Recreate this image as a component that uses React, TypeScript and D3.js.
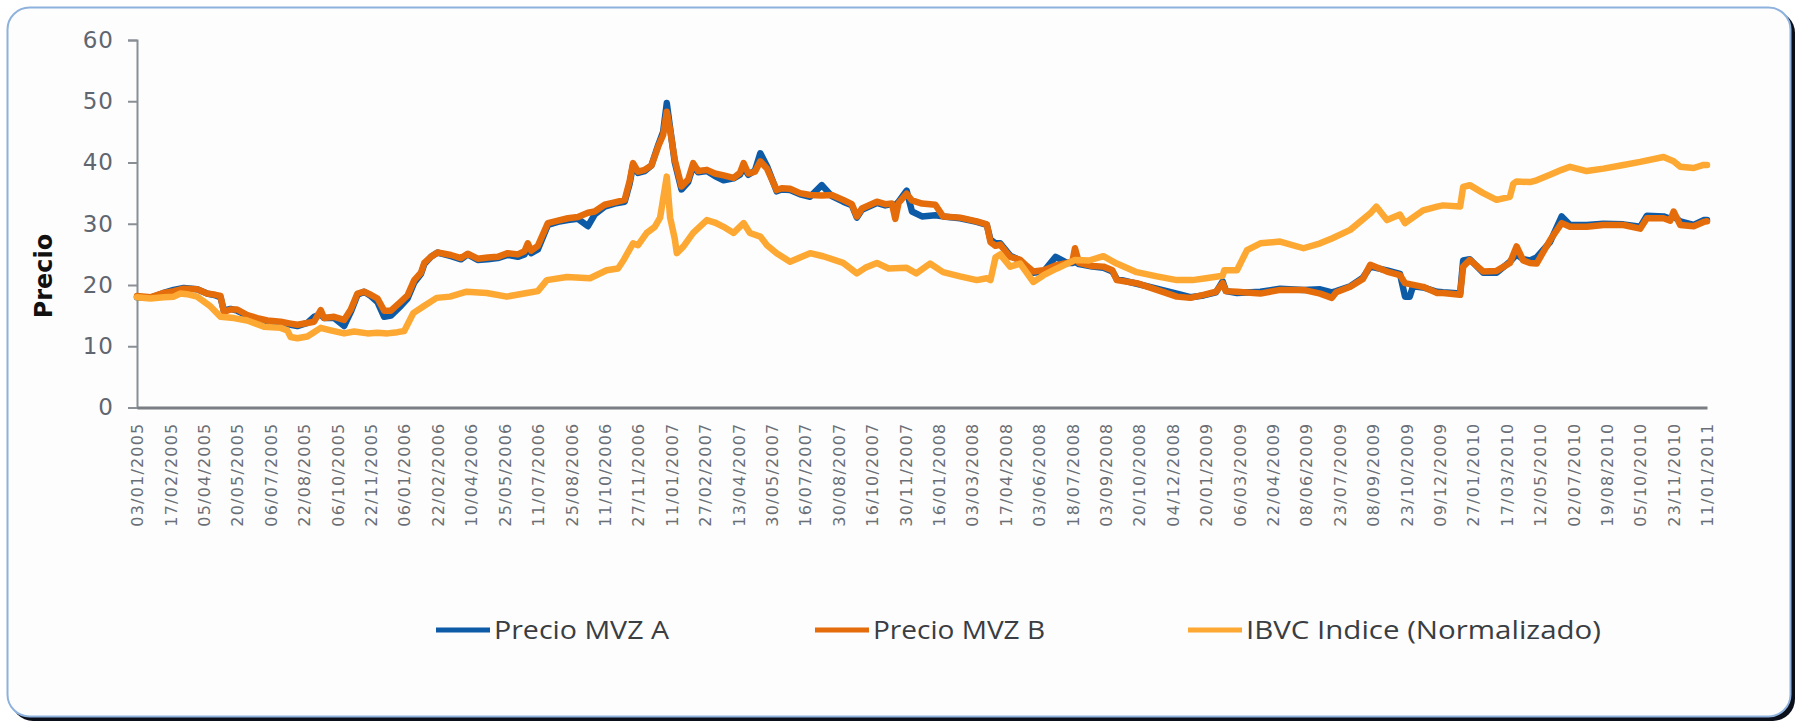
import React, { useRef, useEffect } from 'react';
import * as d3 from 'd3';

// etiquetas del eje x (una cada ~33 sesiones)
const dateLabels = [
  '03/01/2005', '17/02/2005', '05/04/2005', '20/05/2005', '06/07/2005', '22/08/2005',
  '06/10/2005', '22/11/2005', '06/01/2006', '22/02/2006', '10/04/2006', '25/05/2006',
  '11/07/2006', '25/08/2006', '11/10/2006', '27/11/2006', '11/01/2007', '27/02/2007',
  '13/04/2007', '30/05/2007', '16/07/2007', '30/08/2007', '16/10/2007', '30/11/2007',
  '16/01/2008', '03/03/2008', '17/04/2008', '03/06/2008', '18/07/2008', '03/09/2008',
  '20/10/2008', '04/12/2008', '20/01/2009', '06/03/2009', '22/04/2009', '08/06/2009',
  '23/07/2009', '08/09/2009', '23/10/2009', '09/12/2009', '27/01/2010', '17/03/2010',
  '12/05/2010', '02/07/2010', '19/08/2010', '05/10/2010', '23/11/2010', '11/01/2011',
];

const yTicks = [0, 10, 20, 30, 40, 50, 60];

// [posición en etiquetas, valor]
type Pt = [number, number];

const precioB: Pt[] = [
  [0, 18.2], [0.4, 18.0], [0.8, 18.7], [1.1, 19.0], [1.4, 19.4], [1.8, 19.3], [2.1, 18.6],
  [2.35, 18.4], [2.5, 18.2], [2.6, 15.6], [2.8, 16.0], [3.0, 16.0], [3.3, 15.1], [3.6, 14.6],
  [3.9, 14.2], [4.3, 14.0], [4.6, 13.7], [4.8, 13.5], [5.1, 13.8], [5.3, 14.0], [5.5, 15.9],
  [5.6, 14.6], [5.9, 14.8], [6.2, 14.3], [6.4, 16.0], [6.6, 18.6], [6.8, 18.9], [7.0, 18.4],
  [7.2, 17.8], [7.4, 15.8], [7.6, 15.8], [7.9, 17.3], [8.1, 18.3], [8.3, 20.8], [8.5, 22.0],
  [8.6, 23.6], [8.8, 24.6], [9.0, 25.3], [9.4, 24.9], [9.7, 24.4], [9.9, 25.1], [10.2, 24.3],
  [10.5, 24.5], [10.8, 24.6], [11.1, 25.2], [11.4, 25.0], [11.6, 25.5], [11.7, 26.8], [11.8, 25.6],
  [12.0, 26.4], [12.3, 30.1], [12.6, 30.5], [12.9, 30.9], [13.2, 31.1], [13.5, 31.8], [13.7, 32.0],
  [14.0, 33.1], [14.3, 33.5], [14.6, 33.9], [14.75, 37.0], [14.85, 39.9], [15.0, 38.5], [15.2, 38.8],
  [15.4, 39.5], [15.6, 42.6], [15.75, 44.5], [15.86, 48.3], [15.96, 45.3], [16.1, 40.4], [16.3, 36.1],
  [16.5, 37.2], [16.65, 39.9], [16.8, 38.6], [17.06, 38.8], [17.3, 38.2], [17.56, 37.9], [17.86, 37.5],
  [18.05, 38.3], [18.16, 39.9], [18.3, 38.2], [18.5, 38.5], [18.66, 40.2], [18.86, 39.0], [19.15, 35.5],
  [19.3, 35.8], [19.55, 35.7], [19.85, 35.0], [20.15, 34.7], [20.5, 34.6], [20.8, 34.7], [21.14, 33.9],
  [21.4, 33.2], [21.55, 31.2], [21.7, 32.5], [22.15, 33.6], [22.4, 33.2], [22.6, 33.3], [22.7, 30.8],
  [22.8, 33.4], [23.04, 34.9], [23.2, 33.8], [23.5, 33.3], [23.9, 33.1], [24.13, 31.2], [24.64, 31.0],
  [25.14, 30.4], [25.44, 29.9], [25.55, 27.0], [25.7, 26.4], [25.84, 26.6], [26.14, 24.6], [26.44, 24.1],
  [26.6, 23.3], [26.83, 22.2], [27.14, 22.4], [27.5, 23.2], [27.84, 23.6], [28.0, 23.8], [28.08, 26.0],
  [28.2, 23.6], [28.6, 23.1], [28.93, 23.0], [29.2, 22.4], [29.33, 20.8], [29.93, 20.3], [30.53, 19.2],
  [31.13, 18.1], [31.53, 17.9], [31.93, 18.4], [32.3, 18.9], [32.5, 20.3], [32.6, 19.0], [32.93, 18.9],
  [33.63, 18.6], [34.22, 19.2], [34.92, 19.2], [35.42, 18.6], [35.77, 17.9], [35.9, 18.8], [36.32, 19.7],
  [36.7, 21.0], [36.92, 23.3], [37.42, 22.2], [37.81, 21.6], [37.96, 20.3], [38.5, 19.7], [38.92, 18.7],
  [39.1, 18.7], [39.61, 18.4], [39.7, 23.0], [39.9, 24.1], [40.3, 22.2], [40.7, 22.3], [41.1, 23.6],
  [41.3, 26.3], [41.5, 24.0], [41.7, 23.6], [41.9, 23.5], [42.3, 27.3], [42.65, 30.1], [42.9, 29.5],
  [43.4, 29.5], [43.9, 29.8], [44.5, 29.8], [45.0, 29.2], [45.2, 30.9], [45.7, 30.9], [45.9, 30.5],
  [46.0, 32.0], [46.2, 29.8], [46.6, 29.6], [46.9, 30.3], [47, 30.4],
];

const precioA: Pt[] = [
  [0, 18.0], [0.4, 17.9], [0.8, 18.7], [1.1, 19.2], [1.4, 19.5], [1.8, 19.3], [2.1, 18.6],
  [2.35, 18.3], [2.5, 18.0], [2.6, 15.8], [2.8, 16.1], [3.0, 15.8], [3.3, 15.0], [3.6, 14.4],
  [3.9, 14.0], [4.3, 13.8], [4.6, 13.5], [4.8, 13.3], [5.1, 13.8], [5.3, 14.8], [5.5, 15.2],
  [5.6, 14.6], [5.9, 14.6], [6.2, 13.3], [6.4, 15.6], [6.6, 18.4], [6.8, 18.9], [7.0, 18.2],
  [7.2, 17.2], [7.4, 14.8], [7.6, 15.0], [7.9, 16.6], [8.1, 17.8], [8.3, 20.4], [8.5, 21.8],
  [8.6, 23.4], [8.8, 24.6], [9.0, 25.3], [9.4, 24.7], [9.7, 24.2], [9.9, 25.0], [10.2, 24.1],
  [10.5, 24.2], [10.8, 24.4], [11.1, 24.9], [11.4, 24.6], [11.6, 25.0], [11.7, 26.0], [11.8, 25.2],
  [12.0, 25.8], [12.3, 29.8], [12.6, 30.3], [12.9, 30.6], [13.2, 30.8], [13.5, 29.6], [13.7, 31.5],
  [14.0, 32.8], [14.3, 33.3], [14.6, 33.6], [14.75, 36.6], [14.85, 39.6], [15.0, 38.3], [15.2, 38.6],
  [15.4, 39.5], [15.6, 42.8], [15.75, 45.0], [15.86, 49.7], [15.96, 45.6], [16.1, 40.0], [16.3, 35.6],
  [16.5, 36.8], [16.65, 39.5], [16.8, 38.4], [17.06, 38.6], [17.3, 37.8], [17.56, 37.1], [17.86, 37.4],
  [18.05, 38.0], [18.16, 39.2], [18.3, 38.0], [18.5, 38.7], [18.66, 41.5], [18.86, 39.4], [19.15, 35.3],
  [19.3, 35.6], [19.55, 35.5], [19.85, 34.8], [20.15, 34.4], [20.5, 36.3], [20.8, 34.5], [21.14, 33.6],
  [21.4, 33.0], [21.55, 31.0], [21.7, 32.3], [22.15, 33.4], [22.4, 33.0], [22.6, 33.2], [22.7, 33.0],
  [22.8, 33.6], [23.04, 35.4], [23.2, 32.0], [23.5, 31.2], [23.9, 31.4], [24.13, 31.2], [24.64, 30.9],
  [25.14, 30.3], [25.44, 29.8], [25.55, 27.4], [25.7, 26.8], [25.84, 26.8], [26.14, 24.8], [26.44, 24.0],
  [26.6, 23.1], [26.83, 22.0], [27.14, 22.2], [27.5, 24.6], [27.84, 23.6], [28.0, 23.6], [28.08, 23.8],
  [28.2, 23.4], [28.6, 23.0], [28.93, 22.8], [29.2, 22.2], [29.33, 21.0], [29.93, 20.2], [30.53, 19.4],
  [31.13, 18.6], [31.53, 18.0], [31.93, 18.3], [32.3, 18.8], [32.5, 20.6], [32.6, 19.0], [32.93, 18.7],
  [33.63, 18.9], [34.22, 19.4], [34.92, 19.2], [35.42, 19.3], [35.77, 18.8], [35.9, 19.0], [36.32, 19.8],
  [36.7, 21.2], [36.92, 23.0], [37.42, 22.4], [37.81, 21.8], [37.96, 18.1], [38.1, 18.1], [38.2, 19.8],
  [38.5, 19.6], [38.92, 18.9], [39.1, 18.8], [39.61, 18.6], [39.7, 24.0], [39.9, 24.2], [40.3, 22.0],
  [40.7, 22.0], [41.1, 23.8], [41.3, 25.0], [41.5, 24.2], [41.7, 24.0], [41.9, 24.5], [42.3, 27.0],
  [42.65, 31.2], [42.9, 29.8], [43.4, 29.8], [43.9, 30.0], [44.5, 29.9], [45.0, 29.5], [45.2, 31.3],
  [45.7, 31.2], [45.9, 30.8], [46.0, 31.2], [46.2, 30.4], [46.6, 29.8], [46.9, 30.6], [47, 30.6],
];

const ibvc: Pt[] = [
  [0, 18.0], [0.4, 17.8], [0.8, 18.0], [1.1, 18.1], [1.3, 18.6], [1.5, 18.5], [1.8, 18.1],
  [2.2, 16.5], [2.5, 14.8], [2.9, 14.6], [3.3, 14.2], [3.8, 13.2], [4.3, 13.0], [4.5, 12.6],
  [4.6, 11.5], [4.8, 11.3], [5.1, 11.6], [5.3, 12.3], [5.5, 13.0], [5.8, 12.6], [6.2, 12.1],
  [6.5, 12.4], [6.9, 12.1], [7.2, 12.2], [7.5, 12.1], [7.8, 12.3], [8.0, 12.5], [8.27, 15.4],
  [8.57, 16.5], [8.97, 17.9], [9.37, 18.1], [9.87, 18.9], [10.47, 18.7], [11.07, 18.1], [11.67, 18.7],
  [12.0, 19.0], [12.27, 20.8], [12.87, 21.3], [13.56, 21.1], [14.06, 22.4], [14.4, 22.7], [14.56, 24.0],
  [14.85, 26.8], [15.0, 26.5], [15.26, 28.5], [15.5, 29.5], [15.66, 31.0], [15.86, 37.7], [15.96, 31.0],
  [16.1, 27.5], [16.16, 25.2], [16.36, 26.3], [16.65, 28.5], [17.06, 30.6], [17.3, 30.2], [17.56, 29.5],
  [17.86, 28.5], [18.16, 30.1], [18.35, 28.5], [18.66, 27.9], [18.86, 26.5], [19.15, 25.2], [19.55, 23.8],
  [20.15, 25.2], [20.54, 24.7], [21.14, 23.6], [21.55, 21.9], [21.8, 22.8], [22.15, 23.6], [22.5, 22.7],
  [23.04, 22.8], [23.33, 21.9], [23.74, 23.5], [24.13, 22.1], [24.64, 21.4], [25.14, 20.8], [25.44, 21.1],
  [25.55, 20.8], [25.7, 24.5], [25.84, 25.0], [26.14, 23.0], [26.44, 23.5], [26.83, 20.5], [27.14, 21.6],
  [27.54, 22.7], [28.08, 24.1], [28.5, 24.0], [28.93, 24.7], [29.33, 23.5], [29.93, 22.1], [30.53, 21.4],
  [31.13, 20.8], [31.6, 20.8], [32.0, 21.1], [32.5, 21.5], [32.55, 22.4], [32.93, 22.4], [33.23, 25.7],
  [33.63, 26.8], [34.22, 27.1], [34.92, 26.0], [35.42, 26.8], [35.77, 27.6], [36.32, 29.0], [36.92, 31.7],
  [37.1, 32.8], [37.42, 30.6], [37.81, 31.5], [37.96, 30.1], [38.5, 32.2], [38.92, 32.8], [39.1, 33.0],
  [39.61, 32.8], [39.7, 36.0], [39.9, 36.3], [40.3, 35.0], [40.7, 33.9], [41.1, 34.4], [41.2, 36.5],
  [41.3, 36.9], [41.7, 36.8], [41.9, 37.1], [42.3, 38.0], [42.65, 38.8], [42.9, 39.3], [43.4, 38.6],
  [43.9, 39.0], [44.5, 39.6], [45.0, 40.1], [45.7, 40.9], [46.0, 40.2], [46.2, 39.3], [46.6, 39.1],
  [46.9, 39.6], [47, 39.6],
];

const seriesNames = ['Precio MVZ A', 'Precio MVZ B', 'IBVC Indice (Normalizado)'];
const seriesColors = ['#0d5aa7', '#e46c0a', '#fca832'];

const W = 1800;
const H = 724;

export default function App() {
  const svgRef = useRef<SVGSVGElement | null>(null);

  useEffect(() => {
    const svg = d3.select(svgRef.current);
    svg.selectAll('*').remove();

    // marco redondeado con sombra
    svg.append('rect')
      .attr('x', 11).attr('y', 11).attr('width', 1784).attr('height', 710)
      .attr('rx', 22).attr('fill', '#0b0f1a');
    svg.append('rect')
      .attr('x', 7.5).attr('y', 7.5).attr('width', 1783).attr('height', 709)
      .attr('rx', 22).attr('fill', '#fdfdfd').attr('stroke', '#8eb2dd').attr('stroke-width', 2);

    const x = d3.scaleLinear().domain([0, dateLabels.length - 1]).range([137, 1707]);
    const y = d3.scaleLinear().domain([0, 60]).range([407.5, 40]);

    // eje y
    const yAxis = svg.append('g')
      .attr('transform', 'translate(137,0)')
      .call(d3.axisLeft(y).tickValues(yTicks).tickSize(9).tickPadding(14));
    yAxis.select('.domain').attr('stroke', '#8a8f96').attr('stroke-width', 2);
    yAxis.selectAll('.tick line').attr('stroke', '#8a8f96').attr('stroke-width', 2);
    yAxis.selectAll('.tick text')
      .attr('fill', '#5f6670')
      .style('font-family', '"DejaVu Sans", Verdana, sans-serif')
      .style('font-size', '23px')
      .style('letter-spacing', '1px');

    // eje x
    const xAxis = svg.append('g')
      .attr('transform', 'translate(0,407.5)')
      .call(
        d3.axisBottom(x)
          .tickValues(d3.range(dateLabels.length))
          .tickSize(0)
          .tickFormat((d) => dateLabels[+d])
      );
    xAxis.select('.domain').attr('stroke', '#7a7d82').attr('stroke-width', 3);
    xAxis.selectAll('.tick text')
      .attr('transform', 'rotate(-90)')
      .attr('x', -15)
      .attr('y', 0)
      .attr('dy', '0.36em')
      .attr('text-anchor', 'end')
      .attr('fill', '#6a6f76')
      .style('font-family', '"DejaVu Sans", Verdana, sans-serif')
      .style('font-size', '16px')
      .style('letter-spacing', '1.2px');

    // título eje y
    svg.append('text')
      .attr('transform', 'translate(44,276) rotate(-90)')
      .attr('text-anchor', 'middle')
      .attr('dy', '0.35em')
      .attr('fill', '#111')
      .style('font-family', '"DejaVu Sans", Verdana, sans-serif')
      .style('font-weight', 'bold')
      .style('font-size', '24px')
      .text('Precio');

    // líneas
    const line = d3.line<Pt>()
      .x((d) => x(d[0]))
      .y((d) => y(d[1]));

    [precioA, precioB, ibvc].forEach((s, i) => {
      svg.append('path')
        .datum(s)
        .attr('d', line)
        .attr('fill', 'none')
        .attr('stroke', seriesColors[i])
        .attr('stroke-width', 6.5)
        .attr('stroke-linejoin', 'round')
        .attr('stroke-linecap', 'round');
    });

    // leyenda
    const legendX = [436, 815, 1188];
    const legendW = [175, 172, 355];
    const legend = svg.append('g').attr('transform', 'translate(0,630)');
    seriesNames.forEach((name, i) => {
      legend.append('line')
        .attr('x1', legendX[i]).attr('x2', legendX[i] + 54)
        .attr('y1', 0).attr('y2', 0)
        .attr('stroke', seriesColors[i]).attr('stroke-width', 5);
      legend.append('text')
        .attr('x', legendX[i] + 58)
        .attr('y', 0)
        .attr('dy', '0.35em')
        .attr('textLength', legendW[i])
        .attr('lengthAdjust', 'spacingAndGlyphs')
        .attr('fill', '#3a3d42')
        .style('font-family', '"Liberation Sans Narrow", "Open Sans", sans-serif')
        .style('font-size', '26px')
        .text(name);
    });
  }, []);

  return (
    <svg
      ref={svgRef}
      width={W}
      height={H}
      style={{ position: 'absolute', left: 0, top: 0, background: '#fff' }}
    />
  );
}
